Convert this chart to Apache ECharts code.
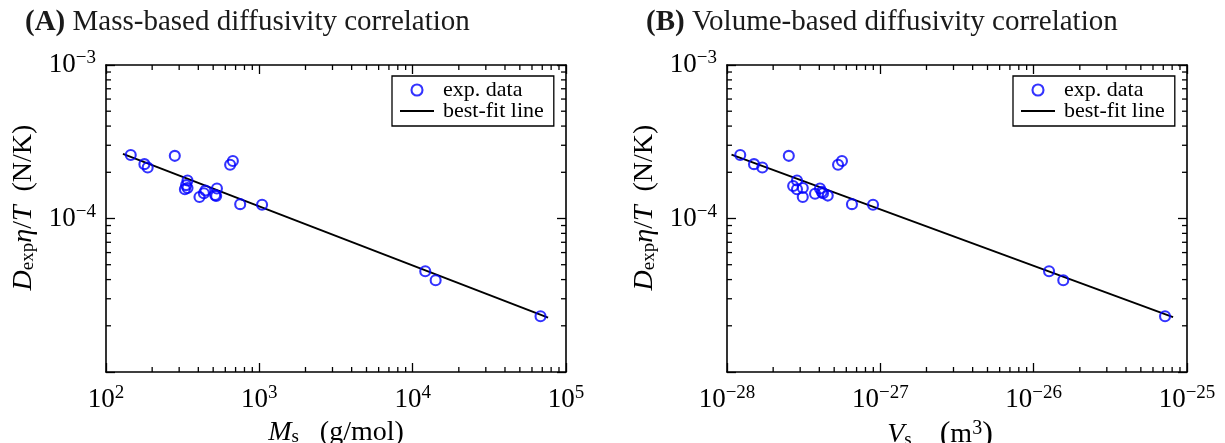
<!DOCTYPE html>
<html><head><meta charset="utf-8">
<script src="https://cdn.jsdelivr.net/npm/echarts@6/dist/echarts.min.js"></script>
<style>html,body{margin:0;padding:0;background:#fff}#c{width:1225px;height:443px}</style>
</head><body><div id="c"></div>
<script>
// ---- data ----
const massA = [145, 178, 187, 281, 340, 333, 327, 340, 407, 435, 445, 515, 529, 523, 645, 672, 750, 1042, 12080, 14120, 68200];
const diffA = [2.59e-4, 2.26e-4, 2.15e-4, 2.56e-4, 1.77e-4, 1.65e-4, 1.55e-4, 1.58e-4, 1.38e-4, 1.46e-4, 1.52e-4, 1.42e-4, 1.57e-4, 1.40e-4, 2.24e-4, 2.37e-4, 1.24e-4, 1.23e-4, 4.53e-5, 3.96e-5, 2.31e-5];
const volB = [1.22e-28, 1.50e-28, 1.70e-28, 2.53e-28, 2.86e-28, 2.70e-28, 2.86e-28, 3.12e-28, 3.12e-28, 3.75e-28, 4.04e-28, 4.15e-28, 4.23e-28, 4.54e-28, 5.30e-28, 5.62e-28, 6.53e-28, 8.96e-28, 1.26e-26, 1.56e-26, 7.19e-26];
const diffB = [2.59e-4, 2.26e-4, 2.15e-4, 2.56e-4, 1.77e-4, 1.63e-4, 1.55e-4, 1.58e-4, 1.38e-4, 1.45e-4, 1.57e-4, 1.49e-4, 1.46e-4, 1.41e-4, 2.24e-4, 2.37e-4, 1.24e-4, 1.23e-4, 4.53e-5, 3.96e-5, 2.31e-5];
const fitAx = [129, 76400];
const fitAy = [2.64e-4, 2.26e-5];
const fitBx = [1.07e-28, 8.11e-26];
const fitBy = [2.61e-4, 2.28e-5];
// axis ranges and tick labels (decade exponents)
const xRangeA = [1e2, 1e5];
const xRangeB = [1e-28, 1e-25];
const yRange = [1e-5, 1e-3];
const xLabelExpA = [2, 3, 4, 5];
const xLabelExpB = [-28, -27, -26, -25];
const yLabelExp = [-4, -3];
const titles = ['(A)', 'Mass-based diffusivity correlation', '(B)', 'Volume-based diffusivity correlation'];
const seriesNames = ['exp. data', 'best-fit line'];

// Axes are decade (log10) value axes; every value is mapped through log10.
const L = Math.log10;
const F = 'Liberation Serif';
const FS = 27;
const rich = {
  b: { fontFamily: F, fontSize: FS, color: '#000' },
  s: { fontFamily: F, fontSize: 19, color: '#000', padding: [0, 0, 13, 0] },
  i: { fontFamily: F, fontSize: 28, color: '#000', fontStyle: 'italic' },
  n: { fontFamily: F, fontSize: 28, color: '#000' },
  p: { fontFamily: F, fontSize: 32, color: '#000' },
  sub: { fontFamily: F, fontSize: 19, color: '#000', padding: [10, 0, 0, 0] },
  sup: { fontFamily: F, fontSize: 20, color: '#000', padding: [0, 0, 13, 0] }
};
function expLabel(list) {
  return function (v) {
    const e = Math.round(v);
    if (Math.abs(v - e) > 1e-6 || list.indexOf(e) < 0) return '';
    return '{b|10}{s|' + (e < 0 ? '\u2212' + (-e) : e) + '}';
  };
}
function minorVals(range) {
  const out = [];
  for (let e = Math.round(L(range[0])); e < Math.round(L(range[1])); e++)
    for (let k = 2; k <= 9; k++) out.push(e + L(k));
  return out;
}
const frameLine = { color: '#000', width: 1.6 };
function axisPair(g, dim, range, fmt, name, nameGap, namePad) {
  const posA = dim === 'x' ? 'bottom' : 'left';
  const posB = dim === 'x' ? 'top' : 'right';
  const base = { gridIndex: g, type: 'value', min: Math.round(L(range[0])), max: Math.round(L(range[1])), interval: 1, splitLine: { show: false } };
  const major = { show: true, inside: true, length: 9, lineStyle: { color: '#000', width: 1.3 } };
  return [
    Object.assign({}, base, {
      position: posA, axisLine: { show: true, onZero: false, lineStyle: frameLine }, axisTick: major,
      axisLabel: { formatter: fmt, rich: rich, margin: dim === 'x' ? 12 : 10, hideOverlap: false, showMinLabel: true, showMaxLabel: true },
      name: name, nameLocation: 'middle', nameGap: nameGap, nameRotate: dim === 'y' ? 90 : 0,
      nameTextStyle: { rich: rich, padding: namePad }
    }),
    Object.assign({}, base, { position: posB, axisLine: { show: true, onZero: false, lineStyle: frameLine }, axisTick: major, axisLabel: { show: false } })
  ];
}
const yName = '{i|D}{sub|exp}{i|\u03b7}{n|/}{i|T}{n|  (N/K)}';
const xAxes = [].concat(
  axisPair(0, 'x', xRangeA, expLabel(xLabelExpA), '{i|M}{sub|s}{n|   (g/mol)}', 44, [0, 0, 0, 0]),
  axisPair(1, 'x', xRangeB, expLabel(xLabelExpB), '{i|V}{sub|s}{n|    }{p|(}{n|m}{sup|3}{p|)}', 42, [0, 34, 0, 0])
);
const yAxes = [].concat(
  axisPair(0, 'y', yRange, expLabel(yLabelExp), yName, 68, [0, 0, 0, 22]),
  axisPair(1, 'y', yRange, expLabel(yLabelExp), yName, 68, [0, 0, 0, 22])
);
function pairs(xs, ys) { return xs.map((x, i) => [L(x), L(ys[i])]); }
const scatterStyle = { color: 'rgba(0,0,0,0)', borderColor: '#0000ff', borderWidth: 2.1 };
// minor (2..9 x 10^n) ticks on all four sides, placed through the grid's coordinate system
const MINOR_LEN = 5;
function minorTickSeries(axIdx, dim, xr, yr) {
  const lx = [L(xr[0]), L(xr[1])], ly = [L(yr[0]), L(yr[1])];
  const vals = minorVals(dim === 'x' ? xr : yr);
  const st = { stroke: '#000', lineWidth: 1.3 };
  return {
    type: 'custom', xAxisIndex: axIdx, yAxisIndex: axIdx, silent: true, z: 6, clip: false, animation: false,
    data: vals.map(v => dim === 'x' ? [v, ly[0]] : [lx[0], v]),
    renderItem: function (params, api) {
      if (dim === 'x') {
        const a = api.coord([api.value(0), ly[0]]), b = api.coord([api.value(0), ly[1]]);
        return { type: 'group', children: [
          { type: 'line', shape: { x1: a[0], y1: a[1], x2: a[0], y2: a[1] - MINOR_LEN }, style: st },
          { type: 'line', shape: { x1: b[0], y1: b[1], x2: b[0], y2: b[1] + MINOR_LEN }, style: st }
        ] };
      }
      const a = api.coord([lx[0], api.value(1)]), b = api.coord([lx[1], api.value(1)]);
      return { type: 'group', children: [
        { type: 'line', shape: { x1: a[0], y1: a[1], x2: a[0] + MINOR_LEN, y2: a[1] }, style: st },
        { type: 'line', shape: { x1: b[0], y1: b[1], x2: b[0] - MINOR_LEN, y2: b[1] }, style: st }
      ] };
    }
  };
}
function panelSeries(axIdx, xs, ys, fx, fy, xr) {
  return [
    { name: seriesNames[1], type: 'line', xAxisIndex: axIdx, yAxisIndex: axIdx, data: pairs(fx, fy), symbol: 'none', showSymbol: false, itemStyle: { color: '#000' }, lineStyle: { color: '#000', width: 1.9 }, z: 2, animation: false, silent: true },
    { name: seriesNames[0], type: 'scatter', xAxisIndex: axIdx, yAxisIndex: axIdx, data: pairs(xs, ys), symbol: 'circle', symbolSize: 10, itemStyle: scatterStyle, z: 3, animation: false, silent: true },
    minorTickSeries(axIdx, 'x', xr, yRange),
    minorTickSeries(axIdx, 'y', xr, yRange)
  ];
}
function legendAt(left, top) {
  return {
    left: left, top: top, orient: 'vertical', padding: [3, 10, 4, 8], itemGap: -1,
    borderColor: '#000', borderWidth: 1.3, borderRadius: 0, backgroundColor: '#fff',
    itemWidth: 34, itemHeight: 11, selectedMode: false, z: 10,
    textStyle: { fontFamily: F, fontSize: 22, color: '#000', padding: [0, 0, 0, 4] },
    data: [
      { name: seriesNames[0], icon: 'circle', itemStyle: scatterStyle },
      { name: seriesNames[1], icon: 'path://M0,0H34V1.9H0Z', itemStyle: { color: '#000', borderWidth: 0 } }
    ]
  };
}
const titleRich = {
  b: { fontFamily: F, fontSize: 29, fontWeight: 'bold', color: '#1a1a1a' },
  n: { fontFamily: F, fontSize: 29, fontWeight: 'normal', color: '#1a1a1a' }
};
const chart = echarts.init(document.getElementById('c'), null, { renderer: 'canvas' });
chart.setOption({
  animation: false,
  backgroundColor: '#fff',
  title: [
    { text: '{b|' + titles[0] + '}{n| ' + titles[1] + '}', left: 20, top: 3, textStyle: { fontWeight: 'normal', rich: titleRich } },
    { text: '{b|' + titles[2] + '}{n| ' + titles[3] + '}', left: 641, top: 3, textStyle: { fontWeight: 'normal', rich: titleRich } }
  ],
  grid: [
    { left: 106, top: 65, width: 460, height: 307, outerBoundsMode: 'none' },
    { left: 727, top: 65, width: 460, height: 307, outerBoundsMode: 'none' }
  ],
  legend: [legendAt(392, 76), legendAt(1013, 76)],
  xAxis: xAxes,
  yAxis: yAxes,
  series: [].concat(
    panelSeries(0, massA, diffA, fitAx, fitAy, xRangeA),
    panelSeries(2, volB, diffB, fitBx, fitBy, xRangeB)
  )
});
</script>
</body></html>
